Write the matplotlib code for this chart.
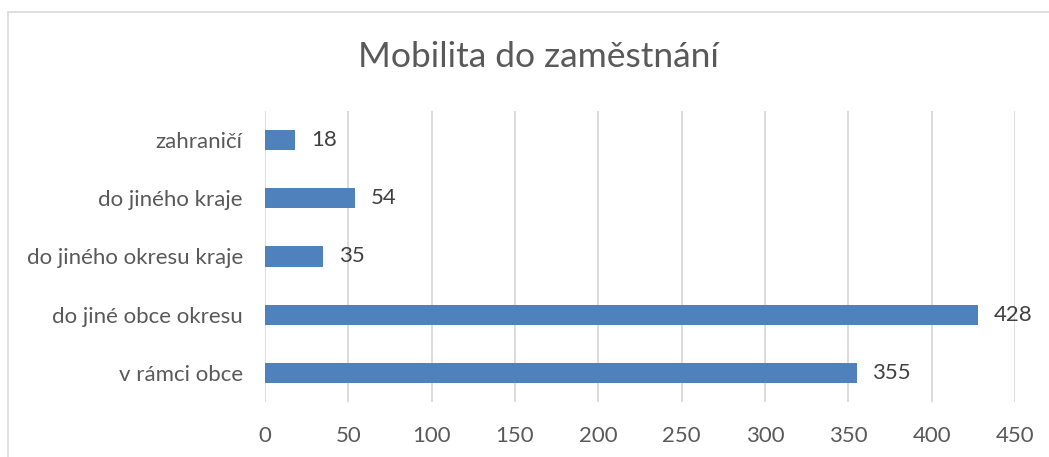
import matplotlib.pyplot as plt
from matplotlib.patches import Rectangle

categories = ["v rámci obce", "do jiné obce okresu", "do jiného okresu kraje",
              "do jiného kraje", "zahraničí"]
values = [355, 428, 35, 54, 18]
x_ticks = [0, 50, 100, 150, 200, 250, 300, 350, 400, 450]

plt.rcParams['font.family'] = ['Lato', 'DejaVu Sans']

fig = plt.figure(figsize=(10.49, 4.57), dpi=100)
ax = fig.add_axes([265 / 1049, 1 - 402 / 457, 750 / 1049, 291 / 457])

bar_color = "#4F81BD"
text_color = "#404040"

ax.barh(range(len(categories)), values, height=0.35, color=bar_color,
        zorder=3)
for i, v in enumerate(values):
    ax.text(v + 9.5, i, str(v), va="center", ha="left", fontsize=16,
            color=text_color)

ax.set_xlim(0, 450)
ax.set_ylim(-0.5, len(categories) - 0.5)
ax.set_xticks(x_ticks)
ax.set_xticklabels([str(t) for t in x_ticks], fontsize=16, color="#595959")
ax.set_yticks(range(len(categories)))
ax.set_yticklabels(categories, fontsize=16, color="#595959")
ax.tick_params(axis="both", length=0)
ax.tick_params(axis="x", pad=17)
ax.tick_params(axis="y", pad=16)
ax.grid(axis="x", color="#D9D9D9", linewidth=1.3, zorder=0)
for s in ax.spines.values():
    s.set_visible(False)

fig.text(538 / 1049, 1 - 57 / 457, "Mobilita do zaměstnání", ha="center",
         va="center", fontsize=25.5, color="#595959")

# chart border
fig.patches.append(Rectangle((8 / 1049, -0.05), 1.1, 1.05 - 12 / 457,
                             transform=fig.transFigure, fill=False,
                             edgecolor="#D9D9D9", linewidth=1.2))

fig.savefig("out.png", dpi=100)
